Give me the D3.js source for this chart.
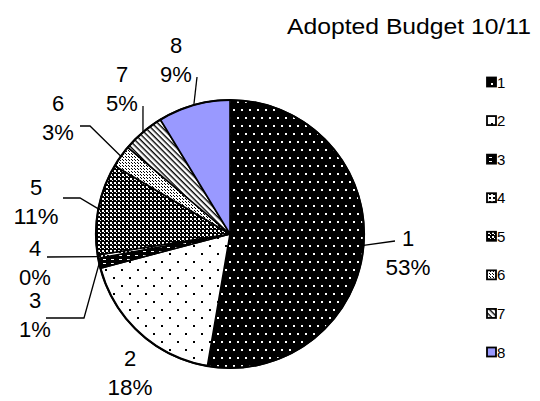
<!DOCTYPE html>
<html><head><meta charset="utf-8">
<script src="https://cdn.jsdelivr.net/npm/d3@7"></script>
<style>body{margin:0;background:#fff}svg{display:block}text{font-family:"Liberation Sans",Arial,sans-serif;fill:#000}</style>
</head><body>
<svg id="c" width="540" height="401"></svg>
<script>
const categories = ["1","2","3","4","5","6","7","8"];
const values = [52.7, 18.2, 1.2, 0.4, 11.0, 2.7, 5.1, 8.7];
const percentLabels = ["53%","18%","1%","0%","11%","3%","5%","9%"];
const title = "Adopted Budget 10/11";

// layout (label text anchor positions and leader elbows)
const labelPos = [[408,246],[130,366],[35,308],[35,256],[36,195],[58,111],[122,82],[176,53]];
const leaderPts = [
  [[395,241]],
  null,
  [[84,318],[46,318]],
  [[47,257]],
  [[80,198],[63,198]],
  [[90,126],[80,126]],
  [[143,106]],
  [[197,77]]
];

const svg = d3.select("#c");
const defs = svg.append("defs");
function pat(id, w, h, bg, draw, transform){
  const p = defs.append("pattern").attr("id", id).attr("patternUnits","userSpaceOnUse")
    .attr("width", w).attr("height", h);
  if (transform) p.attr("patternTransform", transform);
  p.append("rect").attr("width", w).attr("height", h).attr("fill", bg);
  draw(p);
}
pat("p1", 8, 16, "#000", p => { p.append("rect").attr("x",3).attr("y",3).attr("width",2).attr("height",2).attr("fill","#fff");
  p.append("rect").attr("x",7).attr("y",11).attr("width",2).attr("height",2).attr("fill","#fff");
  p.append("rect").attr("x",-1).attr("y",11).attr("width",2).attr("height",2).attr("fill","#fff"); });
pat("p2", 16, 16, "#fff", p => { p.append("rect").attr("x",3).attr("y",3).attr("width",2).attr("height",2).attr("fill","#000");
  p.append("rect").attr("x",11).attr("y",11).attr("width",2).attr("height",2).attr("fill","#000"); });
pat("p3", 8, 4, "#000", p => { p.append("rect").attr("x",1).attr("y",1).attr("width",3).attr("height",1).attr("fill","#fff"); });
pat("p4", 4, 4, "#fff", p => { p.append("rect").attr("x",1).attr("y",1).attr("width",2).attr("height",2).attr("fill","#000"); });
pat("p5", 4, 4, "#000", p => { p.append("rect").attr("x",0).attr("y",0).attr("width",2).attr("height",2).attr("fill","#fff"); 
  p.append("rect").attr("x",2).attr("y",2).attr("width",1).attr("height",1).attr("fill","#fff"); });
pat("p6", 3, 3, "#fff", p => { p.append("rect").attr("x",0).attr("y",0).attr("width",1).attr("height",1).attr("fill","#000");
  p.append("rect").attr("x",1).attr("y",1).attr("width",1).attr("height",1).attr("fill","#000"); });
pat("p7", 4, 4, "#fff", p => { p.append("rect").attr("x",0).attr("y",0).attr("width",4).attr("height",1.4).attr("fill","#000"); }, "rotate(45)");
const fills = ["url(#p1)","url(#p2)","url(#p3)","url(#p4)","url(#p5)","url(#p6)","url(#p7)","#9999ff"];

const cx = 230, cy = 234, R = 134;
const pie = d3.pie().sort(null).value(d => d)(values);
const arc = d3.arc().innerRadius(0).outerRadius(R);
const g = svg.append("g").attr("transform", `translate(${cx},${cy})`);
g.selectAll("path.s").data(pie).join("path").attr("class","s")
  .attr("d", arc).attr("fill", (d,i) => fills[i])
  .attr("stroke", "#000").attr("stroke-width", 1.6).attr("stroke-linejoin","round");
g.append("circle").attr("r", R).attr("fill","none").attr("stroke","#000").attr("stroke-width",2.2);

// leader lines
pie.forEach((d,i) => {
  if (!leaderPts[i]) return;
  const a = (d.startAngle + d.endAngle) / 2;
  const start = [cx + R*Math.sin(a), cy - R*Math.cos(a)];
  const pts = [start, ...leaderPts[i]];
  svg.append("path").attr("d", d3.line()(pts)).attr("fill","none").attr("stroke","#000").attr("stroke-width",1.3);
});

// labels
categories.forEach((c,i) => {
  const [x,y] = labelPos[i];
  svg.append("text").attr("x", x).attr("y", y).attr("text-anchor","middle").attr("font-size",22).text(c);
  svg.append("text").attr("x", x).attr("y", y+29).attr("text-anchor","middle").attr("font-size",22)
    .attr("textLength", percentLabels[i].length === 3 ? 45 : null).attr("lengthAdjust","spacingAndGlyphs")
    .text(percentLabels[i]);
});

// title
svg.append("text").attr("x", 531).attr("y", 34).attr("text-anchor","end").attr("font-size",22)
  .attr("textLength", 244).attr("lengthAdjust","spacingAndGlyphs").text(title);

// legend
const ly = d3.scalePoint().domain(categories).range([82, 352]);
const lg = svg.append("g");
categories.forEach((c,i) => {
  const y = ly(c);
  lg.append("rect").attr("x", 487).attr("y", y-4.5).attr("width", 9).attr("height", 9)
    .attr("fill", fills[i]).attr("stroke","#000").attr("stroke-width",1.8);
  lg.append("text").attr("x", 497).attr("y", y+5.5).attr("font-size",15).text(c);
});
</script>
</body></html>
